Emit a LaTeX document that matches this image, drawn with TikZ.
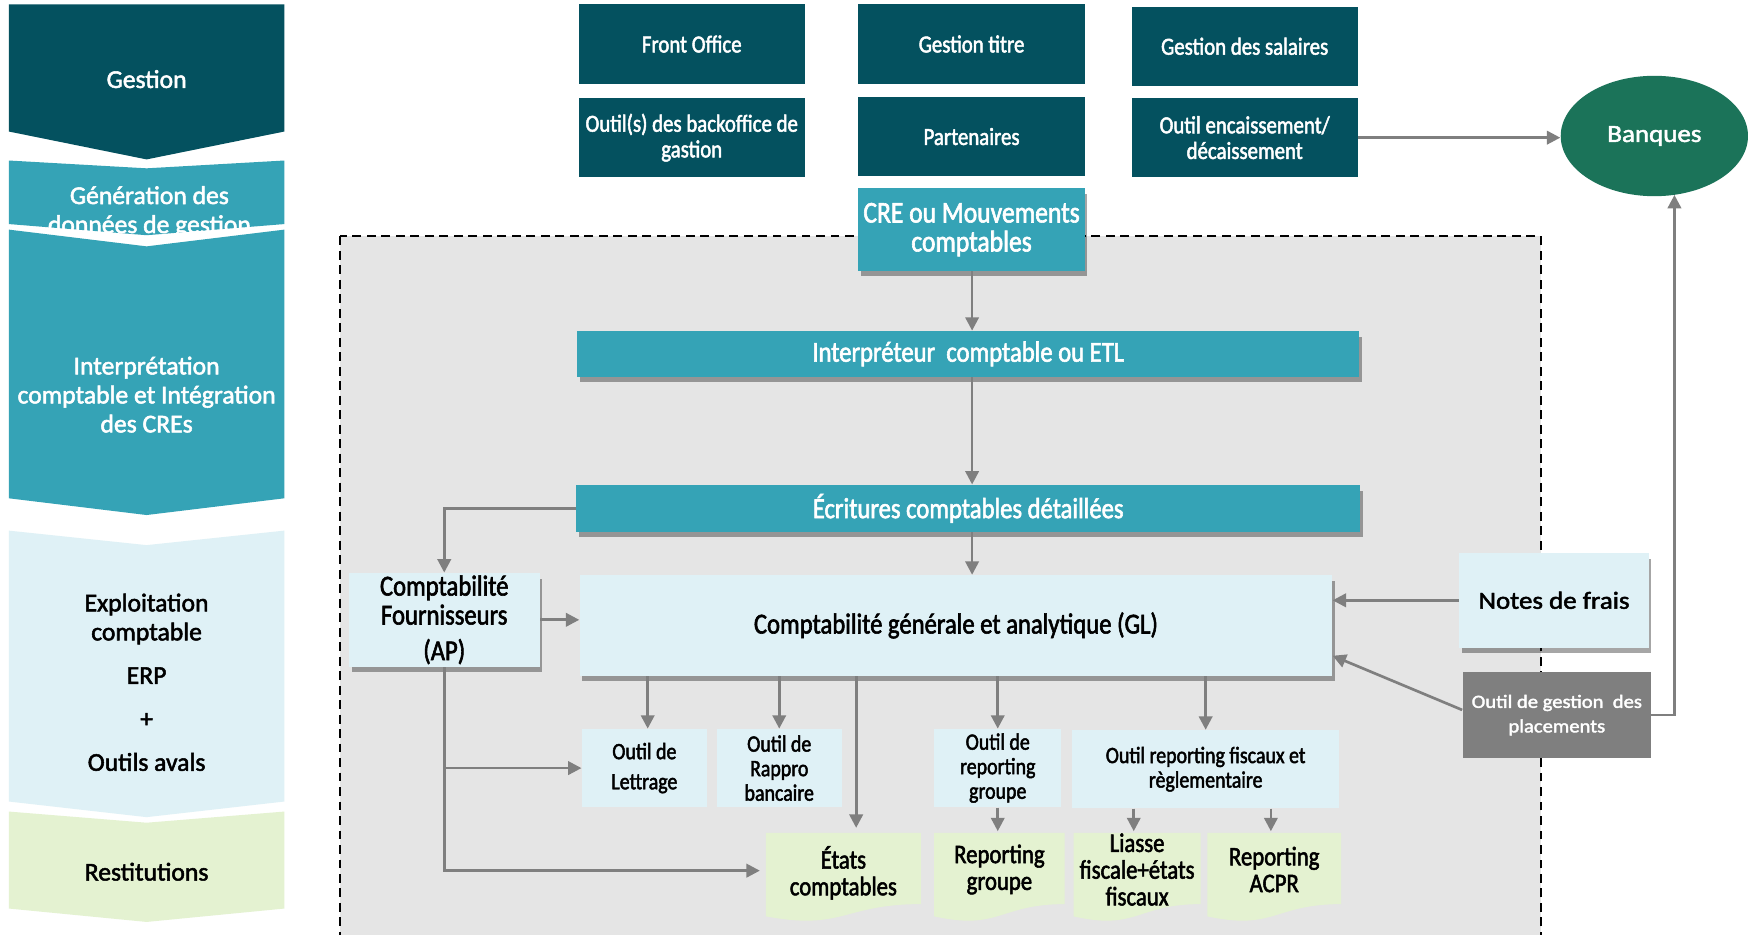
\documentclass[tikz,border=0pt]{standalone}
\usepackage{fontspec}
\setmainfont{Carlito}[FakeBold=2]
\newfontfamily\condf{Carlito}[FakeStretch=0.85,FakeBold=2]
\newfontfamily\widef{Carlito}[FakeStretch=1.1,FakeBold=2]
\usetikzlibrary{arrows.meta,shadows,calc,shapes.geometric}
\definecolor{dteal}{HTML}{04515F}
\definecolor{teal2}{HTML}{35A3B6}
\definecolor{lblue}{HTML}{DFF1F6}
\definecolor{lgreen}{HTML}{E4F2D1}
\definecolor{bgray}{HTML}{E5E5E5}
\definecolor{agray}{HTML}{7F7F7F}
\definecolor{bqgreen}{HTML}{1B7359}
\newcommand\mychev[6]{\fill[#1] (8,#2) -- (131.5,#3) -- (255,#2) -- (255,#4) -- (131.5,#5) -- (8,#4) -- cycle;}
\newcommand\mydoc[2]{\fill[lgreen] (#1,747) -- (#2,747) -- (#2,811) .. controls ({(#1+#2)/2},811) and ({(#1+#2)/2},835) .. (#1,822) -- cycle;}
\begin{document}
\begin{tikzpicture}[x=0.5pt,y=-0.5pt,
  topbox/.style={fill=dteal, text=white, minimum width=101.5pt, minimum height=35.5pt, inner sep=1pt, align=center, font=\condf\fontsize{11}{11.5}\selectfont},
  shad/.style={drop shadow={shadow xshift=1.2pt,shadow yshift=-2.5pt,opacity=0.35,fill=black}},
  tealbar/.style={fill=teal2, text=white, inner sep=0pt, align=center, shad, font=\condf\fontsize{13}{13}\selectfont},
  lbbox/.style={fill=lblue, text=black, inner sep=0pt, align=center},
  smallbox/.style={lbbox, minimum height=35pt, font=\condf\fontsize{10.5}{11}\selectfont},
  doctxt/.style={inner sep=0pt, align=center, minimum height=34pt, font=\condf\fontsize{12}{12}\selectfont},
  lefttxt/.style={align=center, font=\fontsize{11.5}{13}\selectfont},
  arr/.style={draw=agray, line width=1.2pt, -{Triangle[length=6pt,width=6pt]}}
]
\clip (0,0) rectangle (1568,838);
\fill[white] (0,0) rectangle (1568,838);
% left column
\fill[dteal] (8,4) -- (255,4) -- (255,118) -- (131.5,143) -- (8,118) -- cycle;
\mychev{teal2}{144}{151}{201}{211}{}
\mychev{teal2}{206}{221}{447}{462}{}
\mychev{lblue}{476}{489}{719}{733}{}
\mychev{lgreen}{728}{738}{815}{827}{}
\node[lefttxt, text=white] (lgest) at (131.5,71) {Gestion};
\node[lefttxt, text=white] (lgen) at (134,190) {Génération des\\données de gestion};
\node[lefttxt, text=white] (lint) at (131.5,354) {Interprétation\\comptable et Intégration\\des CREs};
\node[lefttxt] (lexp) at (131.5,612) {Exploitation\\comptable\\[6.5pt]ERP\\[6.5pt]+\\[6.5pt]Outils avals};
\node[lefttxt] (lres) at (131.5,782) {Restitutions};
% dashed area
\draw[fill=bgray, line width=0.75pt, dash pattern=on 4pt off 2.5pt] (305,212) rectangle (1382,880);
% top boxes
\node[topbox] (fo) at (620.5,39.5) {Front Office};
\node[topbox] (gt) at (871.5,39.5) {Gestion titre};
\node[topbox] (gs) at (1116.5,41.5) {Gestion des salaires};
\node[topbox] (ob) at (620.5,123.5) {Outil(s) des backoffice de\\gastion};
\node[topbox] (pa) at (871.5,122.5) {Partenaires};
\node[topbox] (oe) at (1116.5,123.5) {Outil encaissement/\\décaissement};
\node[tealbar, minimum width=101.5pt, minimum height=37pt, font=\condf\fontsize{13.5}{13}\selectfont] (cre) at (871.5,206) {CRE ou Mouvements\\comptables};
\node[tealbar, minimum width=350.5pt, minimum height=20.5pt] (itp) at (868.5,317.5) {Interpréteur\ \ comptable ou ETL};
\node[tealbar, minimum width=351.5pt, minimum height=21pt] (ecr) at (868.5,456) {Écritures comptables détaillées};
% main boxes
\node[lbbox, shad, minimum width=85.5pt, minimum height=42pt, font=\condf\fontsize{13}{13}\selectfont] (ap) at (398.5,556) {Comptabilité\\Fournisseurs\\[3pt](AP)};
\node[lbbox, shad, minimum width=337.5pt, minimum height=45pt, font=\condf\fontsize{13}{13}\selectfont] (gl) at (857.5,561) {Comptabilité générale et analytique (GL)};
\node[lbbox, shad, minimum width=85pt, minimum height=42.5pt, font=\widef\fontsize{11}{13}\selectfont] (nf) at (1394,538.5) {Notes de frais};
\node[fill=agray, text=white, inner sep=0pt, align=center, minimum width=84.5pt, minimum height=38.5pt, font=\widef\fontsize{8.4}{11}\selectfont] (pl) at (1396.5,641.5) {Outil de gestion\ \ des\\placements};
\node[ellipse, fill=bqgreen, text=white, minimum width=84pt, minimum height=54pt, inner sep=0pt, font=\widef\fontsize{11}{13}\selectfont] (bq) at (1484,122) {Banques};
% small boxes
\node[smallbox, minimum width=56pt] (lt) at (578,689) {Outil de\\[2.5pt]Lettrage};
\node[smallbox, minimum width=56pt] (rp) at (699,689) {Outil de\\Rappro\\bancaire};
\node[smallbox, minimum width=57pt] (rg) at (895,689) {Outil de\\reporting\\groupe};
\node[smallbox, minimum width=119.5pt] (rf) at (1081.5,690) {Outil reporting fiscaux et\\règlementaire};
% documents
\mydoc{687}{826}
\mydoc{838}{955}
\mydoc{963}{1077}
\mydoc{1083}{1203}
\node[doctxt, minimum width=69.5pt] (et) at (756.5,783) {États\\comptables};
\node[doctxt, minimum width=58.5pt] (rpg) at (896.5,780) {Reporting\\groupe};
\node[doctxt, minimum width=57pt] (li) at (1020,780) {Liasse\\fiscale+états\\fiscaux};
\node[doctxt, minimum width=60pt] (ac) at (1143,780) {Reporting\\ACPR};
% connectors
\coordinate (xa) at (872,0);
\coordinate (xe) at (768,0);
\coordinate (xl) at (581,0);
\coordinate (xf) at (1017,0);
\coordinate (xc) at (1140,0);
\coordinate (xb) at (1502,0);
\draw[arr] (oe.east) -- (oe.east -| bq.west);
\draw[arr] (cre.south -| xa) -- (itp.north -| xa);
\draw[arr] (itp.south -| xa) -- (ecr.north -| xa);
\draw[arr] (ecr.south -| xa) -- (gl.north -| xa);
\draw[arr] (ecr.west) -| (ap.north);
\draw[arr] (ap.east) -- (ap.east -| gl.west);
\draw[arr] (nf.west) -- (nf.west -| gl.east);
\draw[arr] ($(pl.north west)!0.44!(pl.south west)$) -- ($(gl.north east)!0.8!(gl.south east)$);
\draw[arr] (pl.east) -| ($(xb |- bq.south)+(0,-1.5)$);
\draw[arr] (gl.south -| xl) -- (lt.north -| xl);
\draw[arr] (gl.south -| rp.north) -- (rp.north);
\draw[arr] (gl.south -| xe) -- ($(et.north -| xe)+(0,-6)$);
\draw[arr] (gl.south -| rg.north) -- (rg.north);
\draw[arr] (gl.south -| rf.north) -- (rf.north);
\draw[arr] (ap.south) |- ($(et.west)+(-5,-2)$);
\draw[arr] (ap.south |- lt.west) -- (lt.west);
\draw[arr] (rg.south) -- (rg.south |- rpg.north);
\draw[arr] (rf.south -| xf) -- (li.north -| xf);
\draw[arr] (rf.south -| xc) -- (ac.north -| xc);
\end{tikzpicture}
\end{document}
